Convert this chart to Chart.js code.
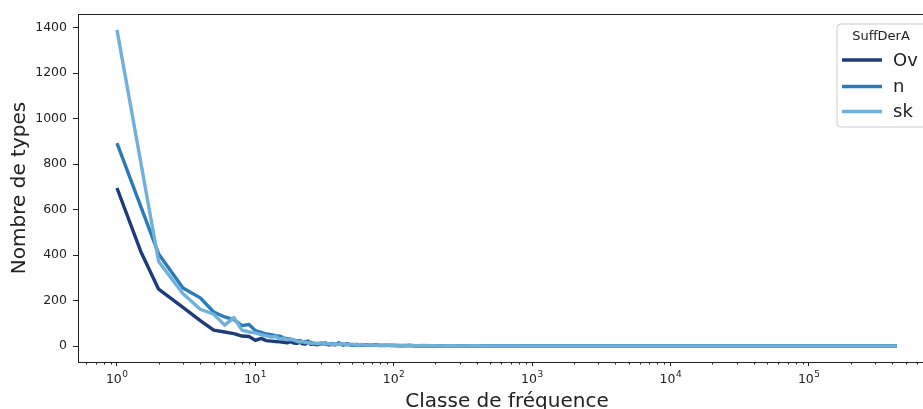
<!DOCTYPE html>
<html>
<head>
<meta charset="utf-8">
<script src="https://cdn.jsdelivr.net/npm/chart.js@4.4.1/dist/chart.umd.min.js"></script>
<style>
  html, body { margin: 0; padding: 0; background: #ffffff; overflow: hidden; }
  #wrap { position: relative; width: 950px; height: 409px; }
</style>
</head>
<body>
<div id="wrap"><canvas id="c"></canvas></div>
<script>
// ---- data ----
const classes = [1, 1.5, 2, 3, 4, 5, 6, 7, 8, 9, 10, 11, 12, 13, 14, 15, 16, 17, 18, 19, 20, 21, 22, 23, 24, 25, 26, 28, 30, 32, 34, 36, 38, 40, 43, 46, 50, 54, 58, 63, 68, 74, 80, 87, 95, 105, 115, 130, 145, 165, 190, 220, 260, 310, 380, 470, 600, 800, 1100, 1600, 2500, 4000, 7000, 12000, 25000, 60000, 150000, 432000];

const seriesNames = ["Ov", "n", "sk"];

const ovValues = [695, 410, 250, 170, 112, 70, 62, 55, 44, 42, 25, 34, 24, 22, 20, 19, 17, 14, 20, 13, 12, 16, 10, 9, 22, 8, 10, 6, 12, 9, 5, 8, 6, 14, 5, 9, 4, 7, 3, 6, 3, 5, 2, 4, 2, 3, 1, 3, 1, 2, 1, 2, 1, 1, 2, 1, 1, 1, 1, 1, 1, 1, 1, 1, 1, 1, 1, 1];

const nValues = [892, null, 405, 255, 212, 150, 128, 116, 90, 95, 68, 60, 53, 50, 46, 44, 36, 33, 30, 26, 23, 24, 18, 20, 15, 17, 13, 12, 10, 14, 8, 10, 7, 9, 6, 8, 5, 6, 4, 5, 3, 4, 3, 2, 4, 2, 3, 2, 1, 2, 1, 2, 1, 2, 1, 1, 2, 1, 1, 1, 1, 1, 1, 1, 1, 1, 1, 1];

const skValues = [1390, null, 372, 230, 162, 140, 92, 125, 70, 62, 58, 50, 45, 40, 42, 31, 35, 28, 30, 26, 21, 18, 20, 15, 16, 12, 14, 10, 15, 9, 11, 7, 9, 8, 10, 6, 8, 5, 7, 4, 6, 3, 5, 3, 4, 3, 2, 4, 2, 3, 2, 1, 2, 1, 2, 1, 1, 1, 1, 1, 1, 1, 1, 1, 1, 1, 1, 1];

const yTickValues = [0, 200, 400, 600, 800, 1000, 1200, 1400];
const xDecades = [-1, 0, 1, 2, 3, 4, 5];

const seriesColors = ["#1f3c78", "#2b7bba", "#70b0d9"];
const legendTitle = "SuffDerA";
const xTitle = "Classe de fréquence";
const yTitle = "Nombre de types";

// ---- build datasets ----
function toPoints(vals) {
  return classes.map((c, i) => ({ x: c, y: vals[i] })).filter(p => p.y !== null);
}
const allValues = [ovValues, nValues, skValues];
const datasets = seriesNames.map((name, i) => ({
  label: name,
  data: toPoints(allValues[i]),
  borderColor: seriesColors[i],
  backgroundColor: seriesColors[i],
  borderWidth: 3.4,
  pointRadius: 0,
  pointHoverRadius: 0,
  tension: 0,
  fill: false,
  borderJoinStyle: 'round',
  borderCapStyle: 'butt',
  order: 2 - i
}));

function isPow10(v) {
  const l = Math.log10(v);
  return Math.abs(l - Math.round(l)) < 1e-9;
}

const FONT = "'DejaVu Sans', 'Liberation Sans', sans-serif";
const INK = '#222222';

const framePlugin = {
  id: 'framePlugin',
  afterDraw(chart) {
    const ctx = chart.ctx;
    const ca = chart.chartArea;
    const xs = chart.scales.x;
    ctx.save();
    // frame (top and right spines)
    ctx.strokeStyle = INK;
    ctx.lineWidth = 1;
    ctx.beginPath();
    ctx.moveTo(ca.left, ca.top + 0.5);
    ctx.lineTo(ca.right, ca.top + 0.5);
    ctx.moveTo(ca.right - 0.5, ca.top);
    ctx.lineTo(ca.right - 0.5, ca.bottom);
    ctx.stroke();
    // minor x ticks + decade labels (10 with superscript exponent)
    ctx.beginPath();
    xs.ticks.forEach(t => {
      if (!isPow10(t.value)) {
        const px = Math.round(xs.getPixelForValue(t.value)) + 0.5;
        ctx.moveTo(px, ca.bottom);
        ctx.lineTo(px, ca.bottom + 2.5);
      }
    });
    ctx.stroke();
    ctx.fillStyle = INK;
    ctx.textBaseline = 'alphabetic';
    xs.ticks.forEach(t => {
      if (isPow10(t.value)) {
        const px = xs.getPixelForValue(t.value);
        const base = '10';
        const ex = String(Math.round(Math.log10(t.value)));
        ctx.font = "12.5px " + FONT;
        const wb = ctx.measureText(base).width;
        ctx.font = "9px " + FONT;
        const we = ctx.measureText(ex).width;
        const x0 = px - (wb + we + 0.5) / 2;
        ctx.font = "12.5px " + FONT;
        ctx.textAlign = 'left';
        ctx.fillText(base, x0, ca.bottom + 21);
        ctx.font = "9px " + FONT;
        ctx.fillText(ex, x0 + wb + 0.5, ca.bottom + 15);
      }
    });

    // legend
    const boxR = ca.right - 7, boxL = ca.right - 99, boxT = ca.top + 10, boxB = ca.top + 113;
    const r = 4;
    ctx.beginPath();
    ctx.moveTo(boxL + r, boxT);
    ctx.lineTo(boxR - r, boxT);
    ctx.arcTo(boxR, boxT, boxR, boxT + r, r);
    ctx.lineTo(boxR, boxB - r);
    ctx.arcTo(boxR, boxB, boxR - r, boxB, r);
    ctx.lineTo(boxL + r, boxB);
    ctx.arcTo(boxL, boxB, boxL, boxB - r, r);
    ctx.lineTo(boxL, boxT + r);
    ctx.arcTo(boxL, boxT, boxL + r, boxT, r);
    ctx.closePath();
    ctx.fillStyle = 'rgba(255,255,255,0.85)';
    ctx.fill();
    ctx.strokeStyle = '#cccccc';
    ctx.lineWidth = 1;
    ctx.stroke();

    ctx.fillStyle = INK;
    ctx.font = "13px " + FONT;
    ctx.textAlign = 'center';
    ctx.textBaseline = 'middle';
    ctx.fillText(legendTitle, (boxL + boxR) / 2 - 2, ca.top + 23);

    const rowY = [ca.top + 46, ca.top + 72.5, ca.top + 97.5];
    chart.data.datasets.forEach((ds, i) => {
      ctx.strokeStyle = ds.borderColor;
      ctx.lineWidth = 3.6;
      ctx.beginPath();
      ctx.moveTo(boxL + 5, rowY[i]);
      ctx.lineTo(boxL + 45, rowY[i]);
      ctx.stroke();
      ctx.fillStyle = INK;
      ctx.font = "18px " + FONT;
      ctx.textAlign = 'left';
      ctx.textBaseline = 'middle';
      ctx.fillText(ds.label, boxL + 56, rowY[i] + 1);
    });
    ctx.restore();
  }
};

new Chart(document.getElementById('c'), {
  type: 'line',
  data: { datasets },
  plugins: [framePlugin],
  options: {
    responsive: true,
    maintainAspectRatio: false,
    animation: false,
    events: [],
    layout: { padding: { left: 0, top: 14, right: 14, bottom: 0 } },
    plugins: { legend: { display: false }, tooltip: { enabled: false }, title: { display: false } },
    scales: {
      x: {
        type: 'logarithmic',
        min: 0.523,
        max: 828000,
        afterFit(s) { s.height = 47; },
        afterBuildTicks(s) {
          const t = [];
          xDecades.forEach(e => {
            for (let k = 1; k <= 9; k++) {
              const v = k * Math.pow(10, e);
              if (v >= s.min && v <= s.max) t.push({ value: v, major: k === 1 });
            }
          });
          s.ticks = t;
        },
        border: { display: true, color: INK, width: 1 },
        grid: {
          drawOnChartArea: false,
          drawTicks: true,
          tickLength: 4,
          tickWidth: 1,
          tickColor: (c) => (c.tick && isPow10(c.tick.value)) ? INK : 'rgba(0,0,0,0)'
        },
        ticks: {
          autoSkip: false,
          maxRotation: 0,
          minRotation: 0,
          padding: 3,
          color: INK,
          font: { family: FONT, size: 12 },
          callback() { return ''; }
        },
        title: {
          display: true,
          text: xTitle,
          color: INK,
          font: { family: FONT, size: 20, lineHeight: 0.7 },
          padding: { top: 0, bottom: 0 }
        }
      },
      y: {
        type: 'linear',
        min: -70,
        max: 1460,
        afterFit(s) { s.width = 78; },
        afterBuildTicks(s) { s.ticks = yTickValues.map(v => ({ value: v })); },
        border: { display: true, color: INK, width: 1 },
        grid: { drawOnChartArea: false, drawTicks: true, tickLength: 5, tickWidth: 1, tickColor: INK },
        ticks: {
          padding: 6,
          color: INK,
          font: { family: FONT, size: 12.5 },
          callback(value) { return String(value); }
        },
        title: {
          display: true,
          text: yTitle,
          color: INK,
          font: { family: FONT, size: 20, lineHeight: 1.2 },
          padding: { top: 8, bottom: 0 }
        }
      }
    }
  }
});
</script>
</body>
</html>
